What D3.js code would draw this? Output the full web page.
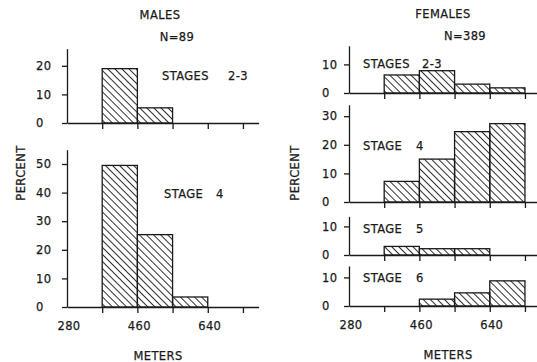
<!DOCTYPE html>
<html>

<head>
  <meta charset="utf-8">
  <title>d3 histogram males / females</title>
  <script src="https://cdn.jsdelivr.net/npm/d3@7"></script>
  <style>
    body { margin: 0; background: #fff; }
    text { font-family: "DejaVu Sans", sans-serif; font-size: 11.5px; fill: #1a1a1a; letter-spacing: 0.4px; stroke: #1a1a1a; stroke-width: 0.25px; }
  </style>
</head>

<body>
  <script type="text/javascript">
    const w = 537;
    const h = 362;

    // Bin starts in meters, each bin 90 m wide
    const binStarts = [370, 460, 550, 640];
    const binWidth = 90;

    // Percent per bin
    const maleStage23 = [19, 5.3];
    const maleStage4 = [49.5, 25.3, 3.5];
    const femaleStage23 = [6.3, 7.8, 3.1, 1.8];
    const femaleStage4 = [7.2, 15, 24.6, 27.4];
    const femaleStage5 = [3, 2.2, 2.2];
    const femaleStage6 = [0, 2.4, 4.6, 8.8];

    // Ticks
    const xTicks = [370, 460, 550, 640, 730];
    const xTickLabels = [280, 460, 640];

    const ink = "#1a1a1a";

    const svg = d3.select("body")
      .append("svg")
      .attr("width", w)
      .attr("height", h);

    // hatch fill
    svg.append("defs").append("pattern")
      .attr("id", "hatch")
      .attr("patternUnits", "userSpaceOnUse")
      .attr("width", 5)
      .attr("height", 5)
      .attr("patternTransform", "rotate(45)")
      .append("line")
      .attr("x1", 0).attr("y1", 2.5)
      .attr("x2", 5).attr("y2", 2.5)
      .attr("stroke", ink)
      .attr("stroke-width", 0.9);

    // one x scale per column
    const xScales = [
      d3.scaleLinear().domain([280, 770]).range([67, 258.6]),
      d3.scaleLinear().domain([280, 770]).range([349, 540.6])
    ];

    const unit = 2.86; // px per percent

    // panel layout: words of the label, x of each word, baseline
    const panels = [
      { col: 0, words: ["STAGES", "2-3"], data: maleStage23, base: 123, max: 26, ticks: [0, 10, 20], lx: [162, 228], ly: 80 },
      { col: 0, words: ["STAGE", "4"], data: maleStage4, base: 307, max: 55, ticks: [0, 10, 20, 30, 40, 50], lx: [164, 216], ly: 198, bottom: true },
      { col: 1, words: ["STAGES", "2-3"], data: femaleStage23, base: 93, max: 16.5, ticks: [0, 10], lx: [363, 422], ly: 68 },
      { col: 1, words: ["STAGE", "4"], data: femaleStage4, base: 202, max: 34, ticks: [0, 10, 20, 30], lx: [363, 416], ly: 150 },
      { col: 1, words: ["STAGE", "5"], data: femaleStage5, base: 255, max: 13.5, ticks: [0, 10], lx: [363, 416], ly: 233 },
      { col: 1, words: ["STAGE", "6"], data: femaleStage6, base: 306, max: 14, ticks: [0, 10], lx: [363, 416], ly: 282, bottom: true }
    ];

    panels.forEach(function (p) {
      const x = xScales[p.col];
      const y = d3.scaleLinear()
        .domain([0, p.max])
        .range([p.base, p.base - p.max * unit]);

      const g = svg.append("g");

      // bars
      g.selectAll("rect")
        .data(p.data)
        .enter()
        .append("rect")
        .attr("x", function (d, i) { return x(binStarts[i]); })
        .attr("y", function (d) { return y(d); })
        .attr("width", function (d, i) { return x(binStarts[i] + binWidth) - x(binStarts[i]); })
        .attr("height", function (d) { return y(0) - y(d); })
        .attr("fill", "url(#hatch)")
        .attr("stroke", ink)
        .attr("stroke-width", 1.3);

      // y axis
      const yAxis = g.append("g")
        .attr("transform", "translate(" + x(280) + ",0)")
        .call(d3.axisLeft(y).tickValues(p.ticks).tickSize(5).tickSizeOuter(0).tickFormat(d3.format("d")));
      yAxis.selectAll("text")
        .attr("text-anchor", "start")
        .attr("x", p.col === 0 ? -31 : -27)
        .attr("fill", ink)
        .style("font-family", "DejaVu Sans")
        .style("font-size", "11.5px");

      // x axis
      const xAxis = g.append("g")
        .attr("transform", "translate(0," + p.base + ")")
        .call(d3.axisBottom(x).tickValues(xTicks).tickSize(6).tickSizeOuter(0).tickFormat(""));

      [yAxis, xAxis].forEach(function (a) {
        a.selectAll("path, line").attr("stroke", ink).attr("stroke-width", 1.3);
      });

      if (p.bottom) {
        g.selectAll(".xlab")
          .data(xTickLabels)
          .enter()
          .append("text")
          .attr("x", function (d) { return x(d) + 2; })
          .attr("y", p.base + 23)
          .attr("text-anchor", "middle")
          .text(function (d) { return d; });
      }

      g.selectAll(".lab")
        .data(p.words)
        .enter()
        .append("text")
        .attr("x", function (d, i) { return p.lx[i]; })
        .attr("y", p.ly)
        .text(function (d) { return d; });
    });

    // titles
    const titles = [
      { t: "MALES", x: 160, y: 19 },
      { t: "N=89", x: 177, y: 41 },
      { t: "FEMALES", x: 443, y: 18 },
      { t: "N=389", x: 465, y: 40 },
      { t: "METERS", x: 158, y: 360 },
      { t: "METERS", x: 448, y: 359 }
    ];
    svg.selectAll(".title")
      .data(titles)
      .enter()
      .append("text")
      .attr("x", function (d) { return d.x; })
      .attr("y", function (d) { return d.y; })
      .attr("text-anchor", "middle")
      .text(function (d) { return d.t; });

    // PERCENT labels
    [[25, 173], [299, 173]].forEach(function (pos) {
      svg.append("text")
        .attr("transform", "translate(" + pos[0] + "," + pos[1] + ") rotate(-90)")
        .attr("text-anchor", "middle")
        .text("PERCENT");
    });
  </script>
</body>

</html>
